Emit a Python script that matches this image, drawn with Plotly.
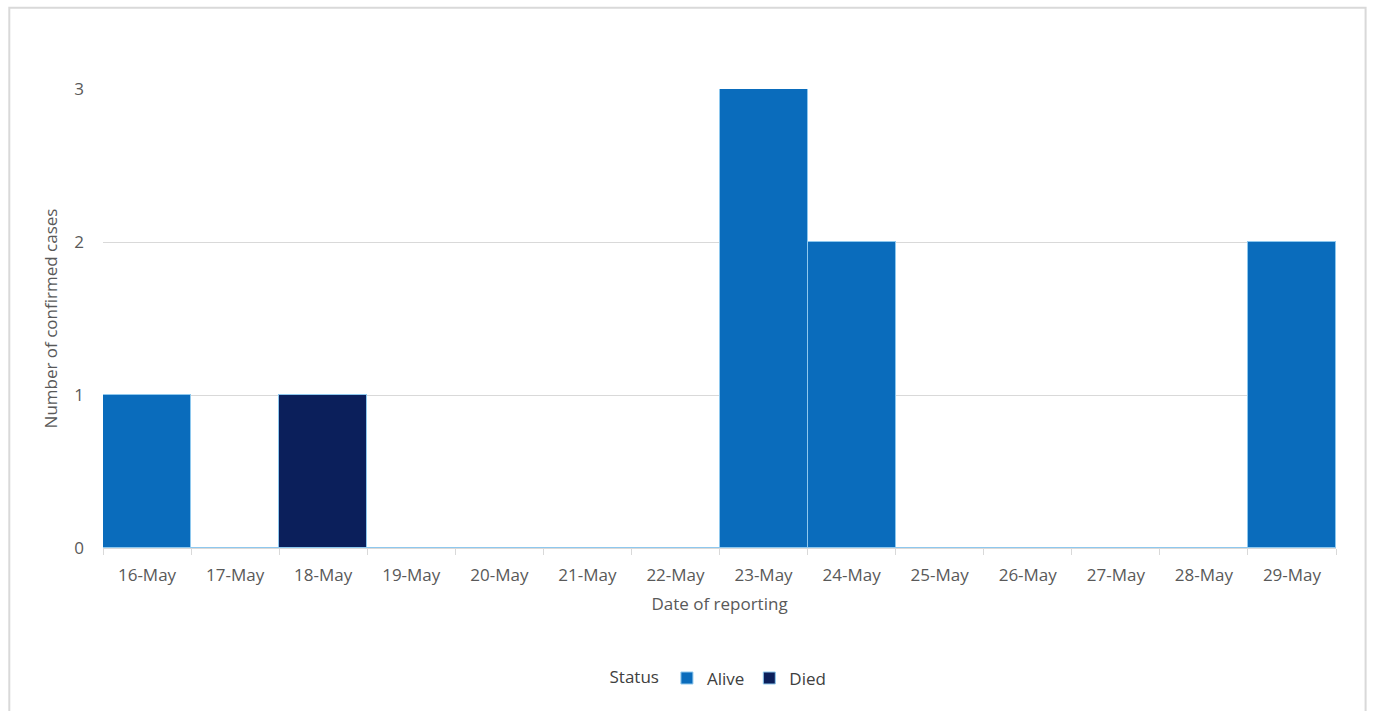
import plotly.graph_objects as go

dates = ["16-May", "17-May", "18-May", "19-May", "20-May", "21-May", "22-May",
         "23-May", "24-May", "25-May", "26-May", "27-May", "28-May", "29-May"]
alive = [1, 0, 0, 0, 0, 0, 0, 3, 2, 0, 0, 0, 0, 2]
died = [0, 0, 1, 0, 0, 0, 0, 0, 0, 0, 0, 0, 0, 0]

FONT = "Open Sans"
TXT = "#595959"

fig = go.Figure()
fig.add_trace(go.Bar(x=dates, y=alive, name="Alive",
                     marker=dict(color="#0a6cbc", line=dict(color="#8ec8ee", width=1))))
fig.add_trace(go.Bar(x=dates, y=died, name="Died",
                     marker=dict(color="#0b1f5b", line=dict(color="#8ec8ee", width=1))))

fig.update_layout(
    width=1373, height=711,
    barmode="stack", bargap=0,
    paper_bgcolor="white", plot_bgcolor="white",
    margin=dict(l=103, r=37, t=89, b=163),
    font=dict(family=FONT, size=17, color=TXT),
    showlegend=True,
    legend=dict(orientation="h", x=0.5, xanchor="center", y=-0.245, yanchor="top",
                traceorder="normal", valign="middle",
                title=dict(text="Status", side="left", font=dict(size=17, color="#404040")),
                font=dict(size=17, color="#404040"), itemwidth=30, tracegroupgap=0),
    shapes=[dict(type="rect", xref="paper", yref="paper",
                 x0=-0.076, x1=1.024, y0=-0.40, y1=1.177,
                 line=dict(color="#d9d9d9", width=2), fillcolor="rgba(0,0,0,0)", layer="below")],
)
fig.update_xaxes(
    type="category", showline=True, linecolor="#d9d9d9", linewidth=1,
    ticks="outside", tickson="boundaries", ticklen=6, tickcolor="#d9d9d9",
    showgrid=False, ticklabelstandoff=12,
    title=dict(text="Date of reporting", standoff=12, font=dict(size=17, color=TXT)),
)
fig.update_yaxes(
    range=[0, 3], tickvals=[0, 1, 2, 3], showgrid=True, gridcolor="#d9d9d9", gridwidth=1,
    zeroline=False, showline=False, ticklabelstandoff=18,
    title=dict(text="Number of confirmed cases", standoff=12, font=dict(size=17, color=TXT)),
)

fig.write_html("out.html")
